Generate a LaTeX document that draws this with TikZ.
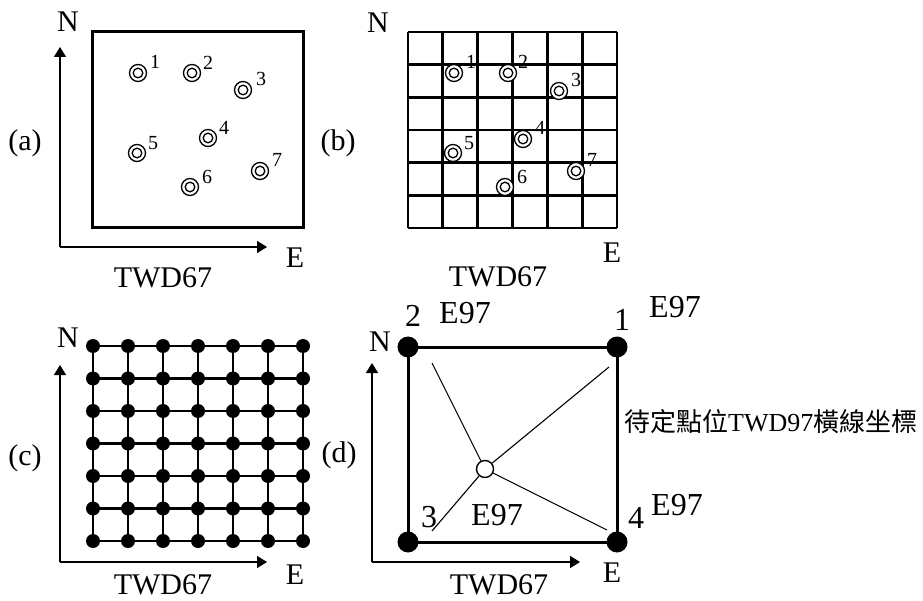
\documentclass[tikz,border=0pt]{standalone}
\usepackage{fontspec}
\setmainfont{Liberation Serif}
\newfontfamily\cjk{Noto Sans CJK TC}
\usetikzlibrary{arrows.meta}
\begin{document}
\begin{tikzpicture}[x=1pt,y=-1pt,
  lbl/.style={font=\fontsize{30}{30}\selectfont, inner sep=0pt},
  dlbl/.style={font=\fontsize{32}{32}\selectfont, inner sep=0pt},
  num/.style={font=\fontsize{20}{20}\selectfont, inner sep=0pt},
  frame/.style={line width=3pt, line join=miter},
  gridln/.style={line width=2.8pt},
  axis/.style={line width=1.5pt, -{Triangle[length=10pt,width=12pt]}},
  pt/.style={circle, draw, line width=1.3pt, minimum size=17pt, inner sep=0pt,
    path picture={\draw[line width=1.3pt] (path picture bounding box.center) circle (4.8pt);}},
  bigdot/.style={circle, fill=black, minimum size=21pt, inner sep=0pt},
  smalldot/.style={circle, fill=black, minimum size=14pt, inner sep=0pt},
  opendot/.style={circle, draw, fill=white, line width=1.4pt, minimum size=17pt, inner sep=0pt},
  thin/.style={line width=1.1pt}
]
\useasboundingbox (0,0) rectangle (923,601);

% ---------------- (a) ----------------
\coordinate (aO) at (60,247);
\coordinate (aN) at (60,47);
\coordinate (aE) at (267,247);
\draw[axis] (aO) -- (aN);
\draw[axis] (aO) -- (aE);
\draw[frame] (92,32) rectangle (303,228);
\node[lbl] (aNl) at (68,22) {N};
\node[lbl] (aEl) at (295,258) {E};
\node[lbl] (aT) at (163,278) {TWD67};
\node[lbl] (aL) at (25,143) {(a)};
\foreach \n/\x/\y/\lx/\ly in {1/138/73/155/62, 2/192/73/208/63, 3/243/90/261/79, 4/208/138/224/128, 5/137/153/153/143, 6/190/187/207/177, 7/260/171/277/160}{
  \node[pt] (a\n) at (\x,\y) {};
  \node[num] (an\n) at (\lx,\ly) {\n};
}

% ---------------- (b) ----------------
\foreach \i in {0,...,6}{
  \draw[gridln] ({408+34.83*\i},32) -- ({408+34.83*\i},228);
  \draw[gridln] (408,{32+32.67*\i}) -- (617,{32+32.67*\i});
}
\node[lbl] (bNl) at (378,23) {N};
\node[lbl] (bEl) at (612,253) {E};
\node[lbl] (bT) at (498,277) {TWD67};
\node[lbl] (bL) at (338,143) {(b)};
\foreach \n/\x/\y/\lx/\ly in {1/454/73/471/62, 2/508/73/523/62, 3/559/91/576/80, 4/523/139/540/128, 5/453/153/469/143, 6/505/187/522/177, 7/576/171/592/160}{
  \node[pt, fill=white] (b\n) at (\x,\y) {};
  \node[num] (bn\n) at (\lx,\ly) {\n};
}

% ---------------- (c) ----------------
\coordinate (cO) at (60,562);
\coordinate (cN) at (60,365);
\coordinate (cE) at (267,562);
\draw[axis] (cO) -- (cN);
\draw[axis] (cO) -- (cE);
\foreach \i in {0,...,6}{
  \draw[gridln] ({93+35*\i},346) -- ({93+35*\i},541);
  \draw[gridln] (93,{346+32.5*\i}) -- (303,{346+32.5*\i});
}
\foreach \i in {0,...,6}{
  \foreach \j in {0,...,6}{
    \node[smalldot] (c\i\j) at ({93+35*\i},{346+32.5*\j}) {};
  }
}
\node[lbl] (cNl) at (68,338) {N};
\node[lbl] (cEl) at (295,575) {E};
\node[lbl] (cT) at (163,585) {TWD67};
\node[lbl] (cL) at (25,458) {(c)};

% ---------------- (d) ----------------
\coordinate (dO) at (372,562);
\coordinate (dN) at (372,363);
\coordinate (dE) at (580,562);
\draw[axis] (dO) -- (dN);
\draw[axis] (dO) -- (dE);
\coordinate (p1) at (617,347);
\coordinate (p2) at (408,347);
\coordinate (p3) at (408,542);
\coordinate (p4) at (617,542);
\draw[frame] (p2) -- (p1) -- (p4) -- (p3) -- cycle;
\node[bigdot] (d1) at (p1) {};
\node[bigdot] (d2) at (p2) {};
\node[bigdot] (d3) at (p3) {};
\node[bigdot] (d4) at (p4) {};
\coordinate (t2) at (432,363);
\coordinate (t1) at (609,367);
\coordinate (t3) at (432,531);
\coordinate (t4) at (607,530);
\node[opendot] (o) at (485,469) {};
\draw[thin] (o) -- (t1);
\draw[thin] (o) -- (t2);
\draw[thin] (o) -- (t3);
\draw[thin] (o) -- (t4);
\node[dlbl] (dn2) at (413,316) {2};
\node[dlbl] (de2) at (465,313) {E97};
\node[dlbl] (dn1) at (622,320) {1};
\node[dlbl] (de1) at (675,307) {E97};
\node[lbl] (dNl) at (380,342) {N};
\node[dlbl] (dn3) at (429,517) {3};
\node[dlbl] (de3) at (497,515) {E97};
\node[dlbl] (dn4) at (636,518) {4};
\node[dlbl] (de4) at (677,505) {E97};
\node[lbl] (dEl) at (612,573) {E};
\node[lbl] (dT) at (499,585) {TWD67};
\node[lbl] (dL) at (339,455) {(d)};
\node[font=\fontsize{26}{26}\selectfont, inner sep=0pt, anchor=west] (dtxt) at (624,422) {{\cjk 待定點位}TWD97{\cjk 橫線坐標}};
\end{tikzpicture}
\end{document}
